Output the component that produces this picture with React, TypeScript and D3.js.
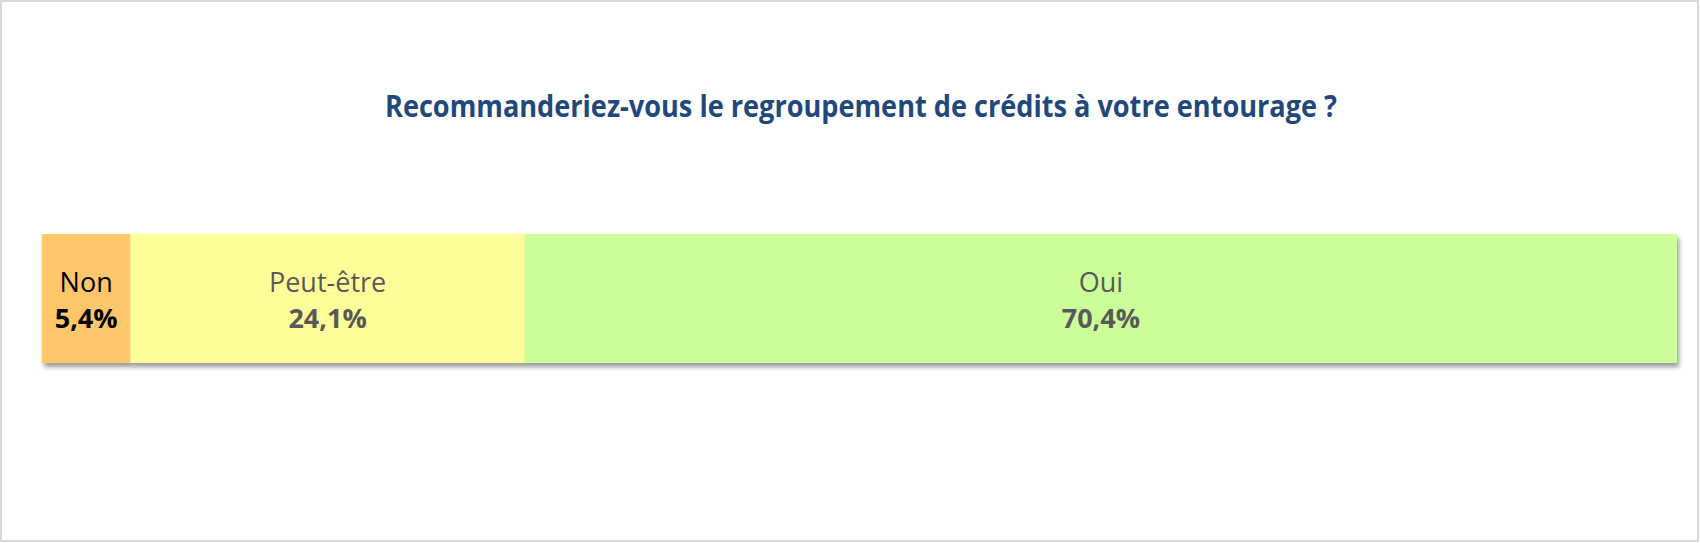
import React from "react";
import * as d3 from "d3";

const title = "Recommanderiez-vous le regroupement de crédits à votre entourage ?";
const categories = ["Non", "Peut-être", "Oui"];
const values = [5.4, 24.1, 70.4];
const valueLabels = ["5,4%", "24,1%", "70,4%"];
const colors = ["#FFC76B", "#FFFF99", "#CCFF99"];
const textColors = ["#000000", "#595959", "#595959"];

const W = 1700;
const H = 543;

export default function App() {
  const total = d3.sum(values);
  const x = d3.scaleLinear().domain([0, total]).range([42, 1677]);
  const y = d3.scaleBand().domain(["q"]).range([234, 363]).padding(0);
  const starts = d3.cumsum([0, ...values.slice(0, -1)]);
  const bandY = y("q") as number;
  const bh = y.bandwidth();

  return (
    <svg
      width={W}
      height={H}
      style={{ position: "absolute", left: 0, top: 0, background: "#fff" }}
      fontFamily="'Open Sans', 'Noto Sans', sans-serif"
    >
      <defs>
        <filter id="shadow" x="-5%" y="-20%" width="110%" height="150%">
          <feDropShadow dx="2" dy="4" stdDeviation="2.5" floodColor="#000" floodOpacity="0.4" />
        </filter>
      </defs>
      <rect x={1} y={1} width={W - 3} height={H - 3} fill="#fff" stroke="#D9D9D9" strokeWidth={2} />
      <text
        x={861}
        y={117}
        textAnchor="middle"
        fontSize={30}
        fontWeight={700}
        fill="#1F497D"
        textLength={952}
        lengthAdjust="spacingAndGlyphs"
      >
        {title}
      </text>
      <g filter="url(#shadow)">
        {values.map((v, i) => (
          <rect
            key={categories[i]}
            x={x(starts[i])}
            y={bandY}
            width={x(starts[i] + v) - x(starts[i])}
            height={bh}
            fill={colors[i]}
          />
        ))}
      </g>
      {values.map((v, i) => {
        const cx = (x(starts[i]) + x(starts[i] + v)) / 2;
        return (
          <g key={"l" + categories[i]} fill={textColors[i]} textAnchor="middle">
            <text x={cx} y={292} fontSize={27}>
              {categories[i]}
            </text>
            <text x={cx} y={328} fontSize={27} fontWeight={700}>
              {valueLabels[i]}
            </text>
          </g>
        );
      })}
    </svg>
  );
}
